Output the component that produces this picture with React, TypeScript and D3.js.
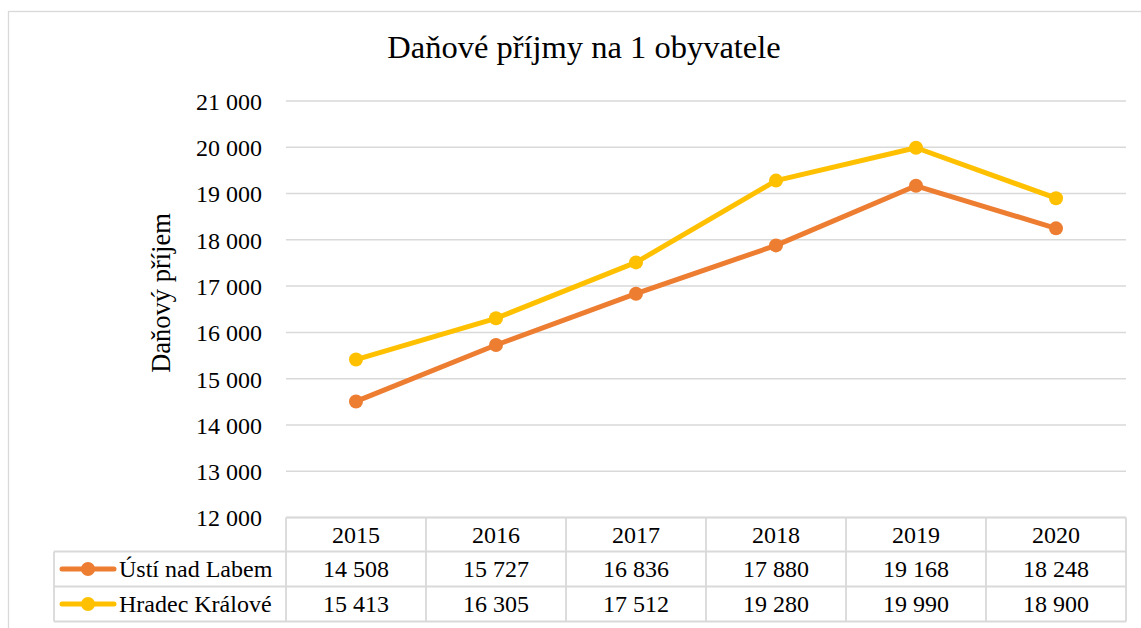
import { useEffect, useRef } from 'react';
import * as d3 from 'd3';

const years = ['2015', '2016', '2017', '2018', '2019', '2020'];
const usti = [14508, 15727, 16836, 17880, 19168, 18248];
const hradec = [15413, 16305, 17512, 19280, 19990, 18900];
const seriesNames = ['Ústí nad Labem', 'Hradec Králové'];
const seriesColors = ['#ED7D31', '#FFC000'];
const yTicks = [12000, 13000, 14000, 15000, 16000, 17000, 18000, 19000, 20000, 21000];

const W = 1141;
const H = 628;
const FONT = '"Liberation Serif", "Times New Roman", serif';
const FS = 24;

export default function App() {
  const ref = useRef<SVGSVGElement>(null);

  useEffect(() => {
    const svg = d3.select(ref.current);
    svg.selectAll('*').remove();

    const fmt = d3.formatLocale({ decimal: ',', thousands: ' ', grouping: [3], currency: ['', ''] }).format(',');

    const left = 286, right = 1126, top = 101, bottom = 517.5;
    const tableLeft = 54;
    const rowH = 35;

    const x = d3.scaleBand().domain(years).range([left, right]);
    const y = d3.scaleLinear().domain([12000, 21000]).range([bottom, top]);

    svg.append('rect').attr('width', W).attr('height', H).attr('fill', '#fff');
    // chart frame (cropped on right/bottom)
    svg.append('rect')
      .attr('x', 8.5).attr('y', 11.5).attr('width', W + 20).attr('height', H + 20)
      .attr('fill', 'none').attr('stroke', '#d9d9d9').attr('stroke-width', 1.3);

    svg.append('text')
      .attr('x', 584).attr('y', 58).attr('text-anchor', 'middle')
      .attr('font-family', FONT).attr('font-size', 32.5).attr('fill', '#000')
      .text('Daňové příjmy na 1 obyvatele');

    // gridlines
    svg.append('g').selectAll('line').data(yTicks).enter().append('line')
      .attr('x1', left).attr('x2', right)
      .attr('y1', d => y(d)).attr('y2', d => y(d))
      .attr('stroke', '#d9d9d9').attr('stroke-width', 1.5);

    const yAxis = svg.append('g')
      .attr('transform', `translate(${left - 21},0)`)
      .attr('font-family', FONT)
      .call(d3.axisLeft(y).tickValues(yTicks).tickSize(0).tickFormat(d => fmt(d as number)));
    yAxis.attr('font-family', FONT).attr('font-size', FS);
    yAxis.select('.domain').remove();
    yAxis.selectAll('text').attr('font-family', FONT).attr('font-size', FS).attr('fill', '#000').attr('dy', '0.35em');

    svg.append('text')
      .attr('transform', `translate(170,${293}) rotate(-90)`)
      .attr('text-anchor', 'middle')
      .attr('font-family', FONT).attr('font-size', 26.5).attr('fill', '#000')
      .text('Daňový příjem');

    // data table
    const tbl = svg.append('g').attr('stroke', '#d9d9d9').attr('stroke-width', 1.8).attr('fill', 'none');
    const tTop = bottom, r1 = tTop + 34, r2 = r1 + rowH, r3 = r2 + rowH;
    tbl.append('line').attr('x1', left).attr('x2', right).attr('y1', tTop).attr('y2', tTop);
    [r1, r2, r3].forEach(ry => tbl.append('line').attr('x1', tableLeft).attr('x2', right).attr('y1', ry).attr('y2', ry));
    tbl.append('line').attr('x1', tableLeft).attr('x2', tableLeft).attr('y1', r1).attr('y2', r3);
    years.forEach(yr => tbl.append('line')
      .attr('x1', x(yr)!).attr('x2', x(yr)!).attr('y1', tTop).attr('y2', r3));
    tbl.append('line').attr('x1', right).attr('x2', right).attr('y1', tTop).attr('y2', r3);

    svg.append('g').selectAll('text').data(years).enter().append('text')
      .attr('x', d => x(d)! + x.bandwidth() / 2).attr('y', (tTop + r1) / 2).attr('dy', '0.35em')
      .attr('text-anchor', 'middle').attr('font-family', FONT).attr('font-size', FS).attr('fill', '#000')
      .text(d => d);

    const series = [usti, hradec];
    series.forEach((vals, i) => {
      const cy = i === 0 ? (r1 + r2) / 2 : (r2 + r3) / 2;
      svg.append('g').selectAll('text').data(vals).enter().append('text')
        .attr('x', (_, j) => x(years[j])! + x.bandwidth() / 2).attr('y', cy).attr('dy', '0.35em')
        .attr('text-anchor', 'middle').attr('font-family', FONT).attr('font-size', FS).attr('fill', '#000')
        .text(d => fmt(d));
      // legend key
      svg.append('line').attr('x1', 62).attr('x2', 114).attr('y1', cy).attr('y2', cy)
        .attr('stroke', seriesColors[i]).attr('stroke-width', 5).attr('stroke-linecap', 'round');
      svg.append('circle').attr('cx', 88).attr('cy', cy).attr('r', 7).attr('fill', seriesColors[i]);
      svg.append('text').attr('x', 119).attr('y', cy).attr('dy', '0.35em')
        .attr('font-family', FONT).attr('font-size', FS).attr('fill', '#000')
        .text(seriesNames[i]);
    });

    // lines (draw Hradec first so Ústí sits on top)
    const line = d3.line<number>()
      .x((_, j) => x(years[j])! + x.bandwidth() / 2)
      .y(d => y(d));
    [1, 0].forEach(i => {
      const vals = series[i];
      svg.append('path').datum(vals).attr('d', line)
        .attr('fill', 'none').attr('stroke', seriesColors[i]).attr('stroke-width', 5)
        .attr('stroke-linejoin', 'round').attr('stroke-linecap', 'round');
      svg.append('g').selectAll('circle').data(vals).enter().append('circle')
        .attr('cx', (_, j) => x(years[j])! + x.bandwidth() / 2).attr('cy', d => y(d))
        .attr('r', 7).attr('fill', seriesColors[i]);
    });
  }, []);

  return <svg ref={ref} width={W} height={H} style={{ position: 'absolute', left: 0, top: 0 }}></svg>;
}
